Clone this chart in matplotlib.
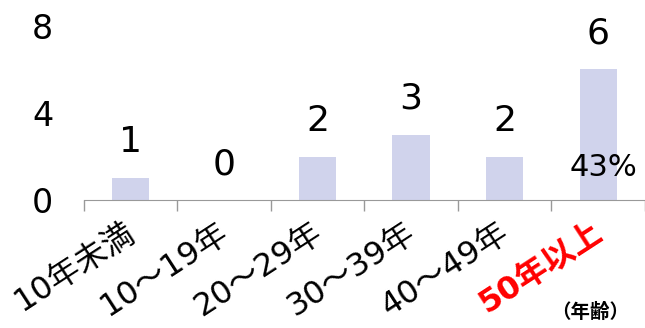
import matplotlib
matplotlib.use("Agg")
import matplotlib.pyplot as plt
from matplotlib.transforms import offset_copy
import numpy as np

plt.rcParams['font.family'] = ['DejaVu Sans', 'Noto Sans CJK JP']

# data
categories = ['10年未満', '10～19年', '20～29年', '30～39年', '40～49年', '50年以上']
counts = [1, 0, 2, 3, 2, 6]
share_label = '43%'
yticks = [0, 4, 8]

bar_color = '#D0D3EC'

fig = plt.figure(figsize=(6.45, 3.28), dpi=100)
ax = fig.add_axes([0.130, 0.39, 0.87, 0.531])

x = np.arange(len(categories))
ax.bar(x, counts, width=0.4, color=bar_color)

# value labels above bars
for xi, v in zip(x, counts):
    ax.text(xi, v + 1.65, str(v), ha='center', va='center', fontsize=26, color='black')

# share label inside last bar
ax.text(x[-1] + 0.06, 1.5, share_label, ha='center', va='center', fontsize=22, color='black')

ax.set_xlim(-0.5, len(categories) - 0.5)
ax.set_ylim(0, 8)
ax.set_yticks(yticks)
ax.tick_params(axis='y', length=0, labelsize=24, pad=22)

# category tick marks at boundaries
ax.set_xticks(np.arange(-0.5, len(categories)), minor=True)
ax.tick_params(axis='x', which='minor', length=8, color='#999999', width=1)
ax.set_xticks(x)
ax.set_xticklabels([])
ax.tick_params(axis='x', which='major', length=0)

# rotated category labels
trans = offset_copy(ax.transData, fig=fig, x=-7, y=-17, units='dots')
for i, (xi, lab) in enumerate(zip(x, categories)):
    last = i == len(categories) - 1
    ax.text(xi, 0, lab, transform=trans, rotation=33, ha='right', va='top',
            rotation_mode='anchor', fontsize=23, clip_on=False,
            color='red' if last else 'black',
            fontweight='bold' if last else 'normal')

for s in ['top', 'right', 'left']:
    ax.spines[s].set_visible(False)
ax.spines['bottom'].set_color('#999999')

fig.text(0.915, 0.048, '（年齢）', ha='center', va='center', fontsize=14, fontweight='bold')

fig.savefig('out.png', dpi=100)
